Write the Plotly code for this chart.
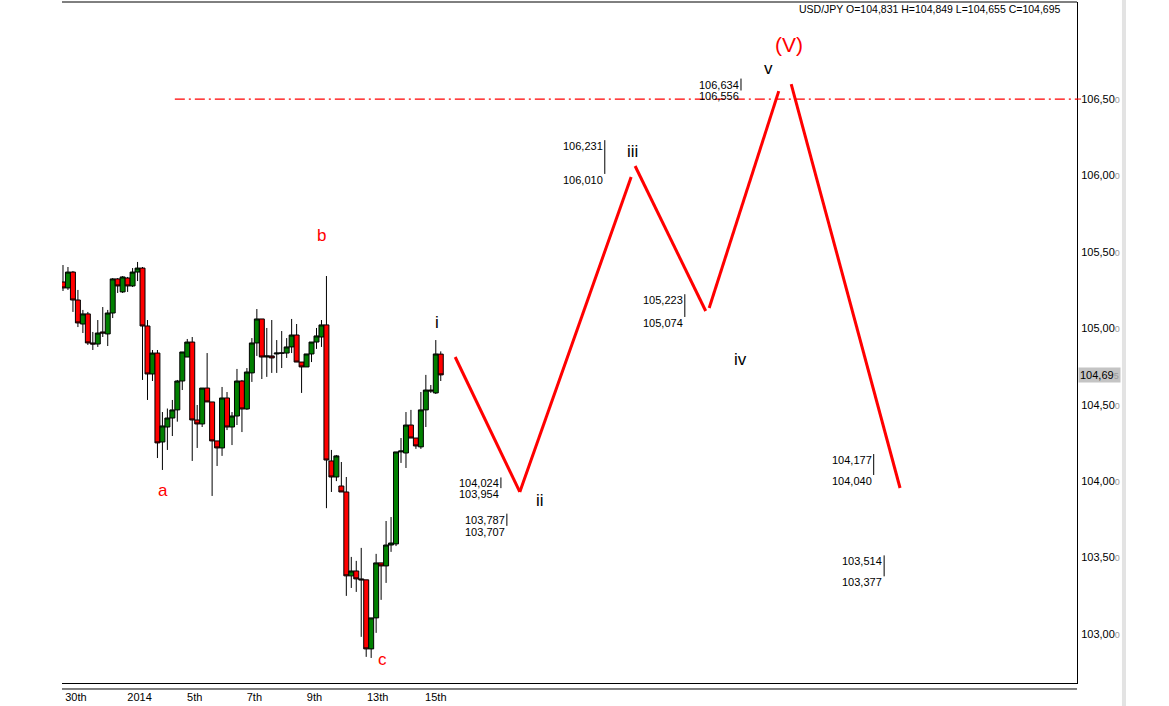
import plotly.graph_objects as go

# ---------------- data ----------------
opens = [105.303, 105.264, 105.368, 105.185, 105.028, 105.094, 104.904, 104.897, 104.976, 104.963,
         105.100, 105.323, 105.238, 105.329, 105.277, 105.368, 105.394, 105.015, 104.701, 104.838,
         104.256, 104.354, 104.413, 104.466, 104.655, 104.812, 104.910, 104.400, 104.374, 104.609,
         104.518, 104.263, 104.217, 104.544, 104.354, 104.426, 104.655, 104.472, 104.708, 104.904,
         105.061, 104.812, 104.819, 104.832, 104.838, 104.838, 104.878, 104.956, 104.779, 104.747,
         104.832, 104.910, 104.943, 105.022, 104.132, 104.027, 103.968, 103.929, 103.380, 103.412,
         103.360, 103.354, 102.902, 103.105, 103.465, 103.445, 103.582, 103.589, 104.191, 104.184,
         104.367, 104.282, 104.224, 104.466, 104.596, 104.577, 104.831]
highs = [105.414, 105.401, 105.375, 105.251, 105.120, 105.107, 104.976, 105.054, 105.139, 105.120,
         105.329, 105.329, 105.342, 105.336, 105.394, 105.434, 105.401, 105.054, 104.858, 104.858,
         104.452, 104.475, 104.531, 104.662, 104.845, 104.930, 104.943, 104.498, 104.609, 104.838,
         104.518, 104.263, 104.616, 104.583, 104.452, 104.734, 104.662, 104.740, 104.936, 105.126,
         105.061, 105.002, 105.054, 104.923, 104.982, 104.936, 105.061, 105.028, 104.779, 104.832,
         104.910, 105.002, 105.054, 105.342, 104.204, 104.171, 104.125, 104.027, 103.504, 103.478,
         103.563, 103.354, 103.105, 103.524, 103.465, 103.739, 103.765, 104.191, 104.282, 104.452,
         104.466, 104.282, 104.583, 104.695, 104.629, 104.923, 104.849]
lows = [105.244, 105.251, 105.107, 105.008, 104.969, 104.891, 104.858, 104.878, 104.943, 104.884,
        105.067, 105.231, 105.231, 105.238, 105.270, 105.309, 104.662, 104.531, 104.655, 104.151,
        104.073, 104.204, 104.295, 104.389, 104.596, 104.812, 104.132, 104.217, 104.354, 104.518,
        103.903, 104.099, 104.165, 104.334, 104.236, 104.367, 104.321, 104.466, 104.649, 104.819,
        104.668, 104.682, 104.708, 104.708, 104.740, 104.806, 104.838, 104.779, 104.577, 104.747,
        104.779, 104.865, 104.878, 103.823, 103.929, 104.000, 103.929, 103.249, 103.301, 103.275,
        102.981, 102.850, 102.843, 103.007, 103.223, 103.334, 103.537, 103.575, 104.119, 104.086,
        104.282, 104.211, 104.211, 104.354, 104.577, 104.570, 104.655]
closes = [105.264, 105.368, 105.185, 105.035, 105.094, 104.904, 104.897, 104.969, 104.969, 105.100,
          105.323, 105.277, 105.336, 105.277, 105.368, 105.394, 105.015, 104.701, 104.838, 104.250,
          104.361, 104.413, 104.466, 104.655, 104.845, 104.910, 104.400, 104.374, 104.609, 104.518,
          104.263, 104.217, 104.544, 104.354, 104.426, 104.655, 104.472, 104.714, 104.904, 105.061,
          104.812, 104.819, 104.806, 104.838, 104.838, 104.878, 104.956, 104.779, 104.747, 104.832,
          104.910, 104.950, 105.022, 104.138, 104.027, 104.165, 103.929, 103.380, 103.412, 103.360,
          103.354, 102.902, 103.105, 103.465, 103.445, 103.582, 103.595, 104.191, 104.197, 104.367,
          104.282, 104.230, 104.466, 104.596, 104.590, 104.832, 104.695]
candle_idx = list(range(len(opens)))

date_tick_pos = [2.6, 15.4, 26.5, 38.5, 50.6, 63.3, 75.0]
date_tick_labels = ["30th", "2014", "5th", "7th", "9th", "13th", "15th"]

price_ticks = [103.0, 103.5, 104.0, 104.5, 105.0, 105.5, 106.0, 106.5]

# projected wave path (segments start / end)
seg_x0 = [78.9, 91.9, 115.1, 130.0, 146.5]
seg_y0 = [104.812, 103.929, 106.062, 105.133, 106.598]
seg_x1 = [91.9, 114.3, 129.3, 144.0, 168.4]
seg_y1 = [103.929, 105.990, 105.113, 106.552, 103.955]

# target zones
tgt_x = [88.1, 89.3, 109.0, 125.1, 136.4, 163.1, 165.2]
tgt_hi = [104.024, 103.787, 106.231, 105.223, 106.634, 104.177, 103.514]
tgt_lo = [103.954, 103.707, 106.010, 105.074, 106.556, 104.040, 103.377]

# wave labels
red_lbl = ["a", "b", "c"]
red_lbl_x = [20.1, 52.1, 64.2]
red_lbl_y = [103.936, 105.604, 102.830]
blk_lbl = ["i", "ii", "iii", "iv", "v"]
blk_lbl_x = [75.2, 96.0, 114.5, 136.4, 142.0]
blk_lbl_y = [105.041, 103.870, 106.160, 104.799, 106.703]
big_lbl = "(V)"
big_lbl_x = 146.0
big_lbl_y = 106.860

level_line = 106.5
level_start = 22.5

x_range = [-0.2, 204.0]
y_range = [102.679, 107.135]

FONT = "Liberation Sans, Arial, sans-serif"


def fmt(v, grey_last=False):
    s = f"{v:.3f}".replace(".", ",")
    if grey_last:
        return s[:-1] + f"<span style='color:#9a9a9a;font-size:9px'>{s[-1]}</span>"
    return s


fig = go.Figure()

fig.add_trace(go.Candlestick(
    x=candle_idx, open=opens, high=highs, low=lows, close=closes,
    increasing=dict(fillcolor="#008000", line=dict(color="black", width=1)),
    decreasing=dict(fillcolor="#ff0000", line=dict(color="black", width=1)),
    whiskerwidth=0, showlegend=False, hoverinfo="skip",
))

# dash-dot level line
fig.add_trace(go.Scatter(
    x=[level_start, x_range[1]], y=[level_line, level_line], mode="lines",
    line=dict(color="#ff0000", width=1.2, dash="10px,4px,2px,4px"),
    showlegend=False, hoverinfo="skip",
))

# wave path
wx, wy = [], []
for a, b, c, d in zip(seg_x0, seg_y0, seg_x1, seg_y1):
    wx += [a, c, None]
    wy += [b, d, None]
fig.add_trace(go.Scatter(
    x=wx, y=wy, mode="lines", line=dict(color="#ff0000", width=3),
    showlegend=False, hoverinfo="skip",
))

# target bars
bx, by = [], []
for x, h, l in zip(tgt_x, tgt_hi, tgt_lo):
    bx += [x, x, None]
    by += [h, l, None]
fig.add_trace(go.Scatter(
    x=bx, y=by, mode="lines", line=dict(color="black", width=1),
    showlegend=False, hoverinfo="skip",
))

annotations = []
for x, h, l in zip(tgt_x, tgt_hi, tgt_lo):
    for v in (h, l):
        annotations.append(dict(
            x=x, y=v, xref="x", yref="y", text=fmt(v), showarrow=False,
            xanchor="right", yanchor="top", xshift=-1, yshift=1,
            font=dict(family=FONT, size=11, color="black"), borderpad=0,
        ))

for t, x, y in zip(red_lbl, red_lbl_x, red_lbl_y):
    annotations.append(dict(x=x, y=y, text=t, showarrow=False,
                            font=dict(family=FONT, size=17, color="#ff0000")))
for t, x, y in zip(blk_lbl, blk_lbl_x, blk_lbl_y):
    annotations.append(dict(x=x, y=y, text=t, showarrow=False,
                            font=dict(family=FONT, size=17, color="black")))
annotations.append(dict(x=big_lbl_x, y=big_lbl_y, text=big_lbl, showarrow=False,
                        font=dict(family=FONT, size=21, color="#ff0000")))

header = (f"USD/JPY O={fmt(opens[-1])} H={fmt(highs[-1])} "
          f"L={fmt(lows[-1])} C={fmt(closes[-1])}")
annotations.append(dict(x=0.9862, y=0.9897, xref="paper", yref="paper", text=header,
                        showarrow=False, xanchor="right", yanchor="middle",
                        font=dict(family=FONT, size=10.5, color="black")))

# current price tag
annotations.append(dict(x=1, y=closes[-1], xref="paper", yref="y",
                        text=fmt(closes[-1], grey_last=True), showarrow=False,
                        xanchor="left", yanchor="middle", bgcolor="#c4c4c4",
                        borderpad=1, xshift=1,
                        font=dict(family=FONT, size=11, color="black")))

shapes = [
    # top border
    dict(type="line", xref="paper", yref="paper", x0=0, x1=1, y0=1, y1=1,
         line=dict(color="black", width=1)),
    # second bottom line
    dict(type="line", xref="paper", yref="paper", x0=0, x1=1, y0=-0.0088, y1=-0.0088,
         line=dict(color="black", width=1)),
    # level tick outside plot
    dict(type="line", xref="paper", yref="y", x0=1, x1=1.004, y0=level_line, y1=level_line,
         line=dict(color="#ff0000", width=1)),
    # grey side bar
    dict(type="rect", xref="paper", yref="paper", x0=1.0443, x1=1.0483, y0=-0.04, y1=1.01,
         line=dict(width=0), fillcolor="#e3e3e3"),
]

fig.update_layout(
    width=1169, height=706,
    margin=dict(l=62, r=92, t=2, b=23),
    paper_bgcolor="white", plot_bgcolor="white",
    boxgap=0, boxgroupgap=0,
    annotations=annotations, shapes=shapes,
    showlegend=False,
    hovermode=False,
    xaxis=dict(range=x_range, tickvals=date_tick_pos, ticktext=date_tick_labels,
               showgrid=False, zeroline=False, showline=True, linecolor="black",
               linewidth=1, ticks="", rangeslider=dict(visible=False),
               ticklabelstandoff=4,
               tickfont=dict(family=FONT, size=11, color="black")),
    yaxis=dict(range=y_range, side="right", tickvals=price_ticks,
               ticktext=[fmt(v, grey_last=True) for v in price_ticks],
               showgrid=False, zeroline=False, showline=True, linecolor="black",
               linewidth=1, ticks="", ticklabelstandoff=1,
               tickfont=dict(family=FONT, size=11, color="black")),
)

fig.write_html("out.html", config={"displayModeBar": False},
               post_script="document.body.style.margin='0px';document.body.style.overflow='hidden';")
